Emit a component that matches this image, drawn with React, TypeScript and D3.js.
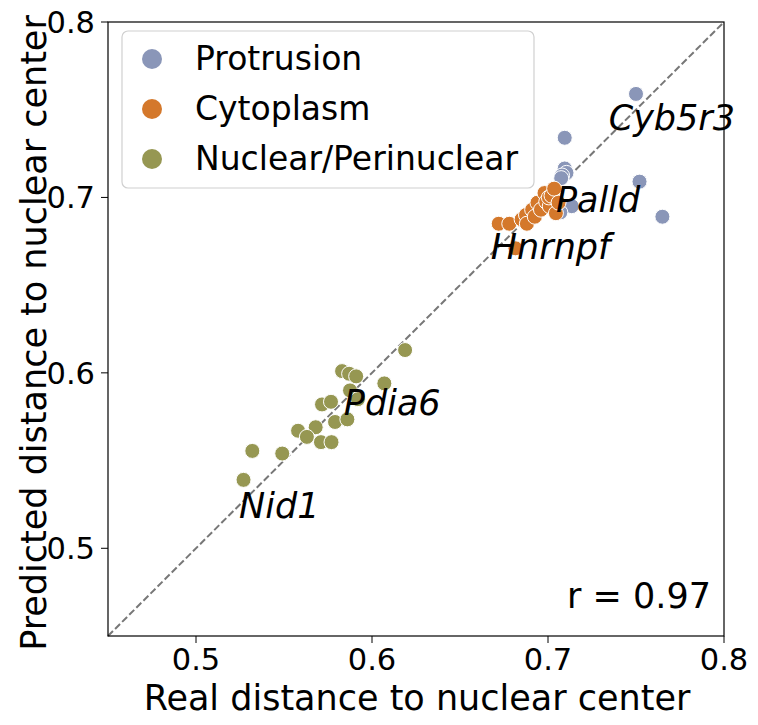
import React from "react";
import * as d3 from "d3";

const categories = ["Protrusion", "Cytoplasm", "Nuclear/Perinuclear"];
const colors = ["#8a96b8", "#d4782b", "#969752"];

// [real, predicted]
const protrusion: [number, number][] = [
  [0.75, 0.759],
  [0.7095, 0.734],
  [0.752, 0.709],
  [0.765, 0.689],
  [0.7095, 0.7165],
  [0.7105, 0.714],
  [0.708, 0.7125],
  [0.7075, 0.711],
  [0.7135, 0.695],
  [0.707, 0.6915],
];

const cytoplasm: [number, number][] = [
  [0.672, 0.685],
  [0.678, 0.685],
  [0.6815, 0.671],
  [0.685, 0.6875],
  [0.6875, 0.69],
  [0.688, 0.685],
  [0.691, 0.693],
  [0.6925, 0.689],
  [0.694, 0.697],
  [0.696, 0.693],
  [0.698, 0.7025],
  [0.699, 0.6975],
  [0.701, 0.695],
  [0.7005, 0.7],
  [0.702, 0.701],
  [0.7035, 0.705],
  [0.7045, 0.691],
  [0.706, 0.697],
];

const nuclear: [number, number][] = [
  [0.6188, 0.613],
  [0.583, 0.601],
  [0.587, 0.5995],
  [0.591, 0.598],
  [0.607, 0.594],
  [0.5875, 0.59],
  [0.592, 0.585],
  [0.5716, 0.582],
  [0.5767, 0.5835],
  [0.579, 0.572],
  [0.586, 0.5735],
  [0.558, 0.567],
  [0.568, 0.569],
  [0.563, 0.5635],
  [0.571, 0.5605],
  [0.577, 0.5605],
  [0.532, 0.5555],
  [0.549, 0.554],
  [0.527, 0.539],
];

const seriesData = [protrusion, cytoplasm, nuclear];

const annotations: { label: string; x: number; y: number }[] = [
  { label: "Cyb5r3", x: 0.7345, y: 0.7385 },
  { label: "Palld", x: 0.7045, y: 0.6915 },
  { label: "Hnrnpf", x: 0.6675, y: 0.665 },
  { label: "Pdia6", x: 0.584, y: 0.576 },
  { label: "Nid1", x: 0.5245, y: 0.517 },
];

const ticks = [0.5, 0.6, 0.7, 0.8];
const domain = [0.45, 0.8];

const W = 758;
const H = 725;
const left = 108;
const right = 724;
const top = 22;
const bottom = 636;

const font = "DejaVu Sans, sans-serif";

export default function App() {
  const x = d3.scaleLinear().domain(domain).range([left, right]);
  const y = d3.scaleLinear().domain(domain).range([bottom, top]);

  return (
    <svg
      width={W}
      height={H}
      style={{ position: "absolute", left: 0, top: 0, background: "#fff" }}
      fontFamily={font}
    >
      <rect x={0} y={0} width={W} height={H} fill="#fff" />
      <line
        x1={x(0.45)}
        y1={y(0.45)}
        x2={x(0.8)}
        y2={y(0.8)}
        stroke="#777"
        strokeWidth={2}
        strokeDasharray="7,3"
      />
      {seriesData.map((pts, i) =>
        pts.map((p, j) => (
          <circle
            key={`${i}-${j}`}
            cx={x(p[0])}
            cy={y(p[1])}
            r={7.5}
            fill={colors[i]}
            stroke="#fff"
            strokeWidth={1}
          />
        ))
      )}
      {annotations.map((a) => (
        <text
          key={a.label}
          x={x(a.x)}
          y={y(a.y)}
          fontSize={35}
          fontStyle="italic"
          fill="#000"
        >
          {a.label}
        </text>
      ))}
      <text x={711} y={608} fontSize={35} textAnchor="end">
        r = 0.97
      </text>
      <rect
        x={left}
        y={top}
        width={right - left}
        height={bottom - top}
        fill="none"
        stroke="#000"
        strokeWidth={1.2}
      />
      {ticks.map((t) => (
        <g key={"x" + t}>
          <line x1={x(t)} x2={x(t)} y1={bottom} y2={bottom + 7} stroke="#000" />
          <text x={x(t)} y={bottom + 34} fontSize={30.5} textAnchor="middle">
            {t.toFixed(1)}
          </text>
        </g>
      ))}
      {ticks.map((t) => (
        <g key={"y" + t}>
          <line x1={left - 7} x2={left} y1={y(t)} y2={y(t)} stroke="#000" />
          <text x={left - 13} y={y(t) + 11} fontSize={30.5} textAnchor="end">
            {t.toFixed(1)}
          </text>
        </g>
      ))}
      <text x={(left + right) / 2 + 1} y={710} fontSize={35} textAnchor="middle">
        Real distance to nuclear center
      </text>
      <text
        transform={`translate(46,${(top + bottom) / 2 + 4}) rotate(-90)`}
        fontSize={35}
        textAnchor="middle"
      >
        Predicted distance to nuclear center
      </text>
      <g>
        <rect
          x={122}
          y={31}
          width={412}
          height={157}
          rx={6}
          fill="#fff"
          fillOpacity={0.8}
          stroke="#d0d0d0"
          strokeWidth={1.2}
        />
        {categories.map((c, i) => (
          <g key={c} transform={`translate(0,${59 + i * 50})`}>
            <circle cx={152} cy={0} r={10} fill={colors[i]} />
            <text x={195} y={11} fontSize={33}>
              {c}
            </text>
          </g>
        ))}
      </g>
    </svg>
  );
}
